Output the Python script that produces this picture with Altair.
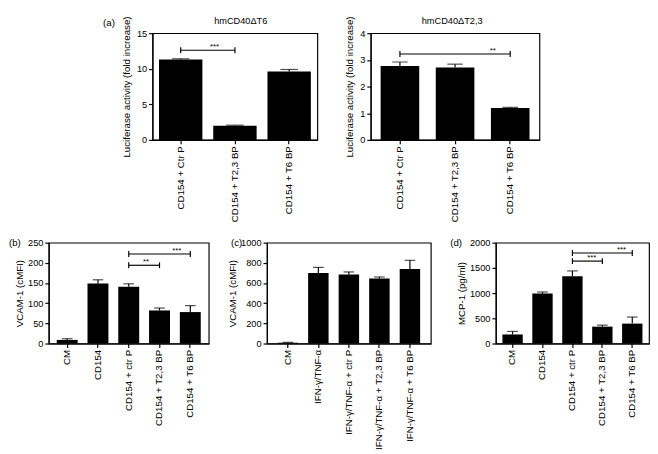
import altair as alt
import pandas as pd

FONT = "Arial"

# ---------------- data ----------------
a1_cats = ["CD154 + Ctr P", "CD154 + T2,3 BP", "CD154 + T6 BP"]
a1_mean = [11.3, 2.0, 9.6]
a1_upper = [11.4, 2.07, 9.9]
a1_sig_from = ["CD154 + Ctr P"]
a1_sig_to = ["CD154 + T2,3 BP"]
a1_sig_y = [12.6]
a1_sig_txt = ["***"]
a1_ticks = [0, 5, 10, 15]

a2_cats = ["CD154 + Ctr P", "CD154 + T2,3 BP", "CD154 + T6 BP"]
a2_mean = [2.77, 2.71, 1.2]
a2_upper = [2.92, 2.84, 1.22]
a2_sig_from = ["CD154 + Ctr P"]
a2_sig_to = ["CD154 + T6 BP"]
a2_sig_y = [3.22]
a2_sig_txt = ["**"]
a2_ticks = [0, 1, 2, 3, 4]

b_cats = ["CM", "CD154", "CD154 + ctr P", "CD154 + T2,3 BP", "CD154 + T6 BP"]
b_mean = [9, 149, 141, 82, 78]
b_upper = [12, 158, 148, 88, 94]
b_sig_from = ["CD154 + ctr P", "CD154 + ctr P"]
b_sig_to = ["CD154 + T6 BP", "CD154 + T2,3 BP"]
b_sig_y = [222, 194]
b_sig_txt = ["***", "**"]
b_ticks = [0, 50, 100, 150, 200, 250]

c_cats = ["CM", "IFN-γ/TNF-α", "IFN-γ/TNF-α + ctr P",
          "IFN-γ/TNF-α + T2,3 BP", "IFN-γ/TNF-α + T6 BP"]
c_mean = [8, 700, 685, 645, 740]
c_upper = [12, 755, 710, 660, 825]
c_ticks = [0, 200, 400, 600, 800, 1000]

d_cats = ["CM", "CD154", "CD154 + ctr P", "CD154 + T2,3 BP", "CD154 + T6 BP"]
d_mean = [180, 990, 1335, 335, 395]
d_upper = [240, 1022, 1440, 365, 525]
d_sig_from = ["CD154 + ctr P", "CD154 + ctr P"]
d_sig_to = ["CD154 + T6 BP", "CD154 + T2,3 BP"]
d_sig_y = [1795, 1635]
d_sig_txt = ["***", "***"]
d_ticks = [0, 500, 1000, 1500, 2000]


def panel(cats, mean, upper, ticks, ytitle, width, height, pin, pout, cap,
          letter, letter_x, letter_y, title_pad=3,
          sig_from=None, sig_to=None, sig_y=None, sig_txt=None, star_dx=0,
          title=None, title_x=0, title_y=-12):
    df = pd.DataFrame({"cat": cats, "mean": mean, "upper": upper})
    xs = alt.Scale(domain=cats, paddingInner=pin, paddingOuter=pout)
    ys = alt.Scale(domain=[ticks[0], ticks[-1]], nice=False, zero=True)
    xax = alt.Axis(title=None, labelAngle=-90)
    yax = alt.Axis(title=ytitle, values=ticks, format="d", titlePadding=title_pad)
    base = alt.Chart(df)
    bars = base.mark_bar(color="black").encode(
        x=alt.X("cat:N", scale=xs, sort=cats, axis=xax),
        y=alt.Y("mean:Q", scale=ys, axis=yax),
    )
    stem = base.mark_rule(color="black", strokeWidth=1.2).encode(
        x=alt.X("cat:N", scale=xs, sort=cats, axis=xax),
        y=alt.Y("mean:Q", scale=ys, axis=yax),
        y2=alt.Y2("upper"),
    )
    caps = base.mark_tick(color="black", thickness=1.2, size=cap).encode(
        x=alt.X("cat:N", scale=xs, sort=cats, axis=xax),
        y=alt.Y("upper:Q", scale=ys, axis=yax),
    )
    layers = [bars, stem, caps]
    if sig_from:
        sdf = pd.DataFrame({"from": sig_from, "to": sig_to, "y": sig_y, "txt": sig_txt})
        line = alt.Chart(sdf).mark_rule(color="black", strokeWidth=1.2).encode(
            x=alt.X("from:N", scale=xs, sort=cats, axis=xax),
            x2=alt.X2("to"),
            y=alt.Y("y:Q", scale=ys, axis=yax),
        )
        edf = pd.DataFrame({"cat": list(sig_from) + list(sig_to),
                            "y": list(sig_y) + list(sig_y)})
        ends = alt.Chart(edf).mark_point(
            shape="M0,-1L0,1", size=36, strokeWidth=1.2, color="black",
            opacity=1, filled=False
        ).encode(
            x=alt.X("cat:N", scale=xs, sort=cats, axis=xax),
            y=alt.Y("y:Q", scale=ys, axis=yax),
        )
        stars = alt.Chart(sdf).mark_text(
            dx=star_dx, dy=-1.5, baseline="alphabetic", fontSize=8, font=FONT,
            color="black"
        ).encode(
            x=alt.X("to:N", scale=xs, sort=cats, axis=xax),
            y=alt.Y("y:Q", scale=ys, axis=yax),
            text="txt:N",
        )
        layers += [line, ends, stars]
    lab = alt.Chart(pd.DataFrame({"t": [letter]})).mark_text(
        align="left", baseline="middle", fontSize=10, font=FONT, color="black"
    ).encode(x=alt.value(letter_x), y=alt.value(letter_y), text="t:N")
    layers.append(lab)
    if title:
        tt = alt.Chart(pd.DataFrame({"t": [title]})).mark_text(
            align="center", baseline="middle", fontSize=9.5, font=FONT, color="black"
        ).encode(x=alt.value(title_x), y=alt.value(title_y), text="t:N")
        layers.append(tt)
    return alt.layer(*layers).properties(width=width, height=height)


ytitle_a = "Luciferase activity (fold increase)"

pa1 = panel(a1_cats, a1_mean, a1_upper, a1_ticks, ytitle_a, 170, 110, 0.2, 0.12, 18,
            "(a)", -51, -10, title_pad=5,
            sig_from=a1_sig_from, sig_to=a1_sig_to, sig_y=a1_sig_y, sig_txt=a1_sig_txt,
            star_dx=-21, title="hmCD40ΔT6", title_x=91, title_y=-12)
pa2 = panel(a2_cats, a2_mean, a2_upper, a2_ticks, ytitle_a, 174, 110, 0.3, 0.18, 16,
            "", -40, -10, title_pad=5,
            sig_from=a2_sig_from, sig_to=a2_sig_to, sig_y=a2_sig_y, sig_txt=a2_sig_txt,
            star_dx=-18, title="hmCD40ΔT2,3", title_x=84, title_y=-12)

pb = panel(b_cats, b_mean, b_upper, b_ticks, "VCAM-1 (cMFI)", 165, 104, 0.32, 0.26, 11,
           "(b)", -41, 0,
           sig_from=b_sig_from, sig_to=b_sig_to, sig_y=b_sig_y, sig_txt=b_sig_txt,
           star_dx=-14)
pc = panel(c_cats, c_mean, c_upper, c_ticks, "VCAM-1 (cMFI)", 169, 104, 0.33, 0.35, 11,
           "(c)", -37, 0)
pd_ = panel(d_cats, d_mean, d_upper, d_ticks, "MCP-1 (pg/ml)", 158, 104, 0.32, 0.22, 11,
            "(d)", -47, 0,
            sig_from=d_sig_from, sig_to=d_sig_to, sig_y=d_sig_y, sig_txt=d_sig_txt,
            star_dx=-11)

spacer = alt.Chart(pd.DataFrame({"t": [""]})).mark_text().encode(
    text="t:N", x=alt.value(0), y=alt.value(0)
).properties(width=42, height=10, view=alt.ViewBackground(stroke=None))

top = alt.hconcat(spacer, pa1, pa2, spacing=13)
bottom = alt.hconcat(pb, pc, pd_, spacing=18)

chart = alt.vconcat(top, bottom, spacing=14).properties(
    padding=0, background="white"
).configure(font=FONT).configure_view(
    stroke="black", strokeWidth=1.2
).configure_axis(
    domainColor="black", domainWidth=1.2, tickColor="black", tickWidth=1.2,
    tickSize=4, labelColor="black", labelFont=FONT, titleFont=FONT,
    titleFontWeight="normal", titleColor="black", grid=False,
    labelFontSize=9.5, titleFontSize=10, labelPadding=2
).configure_axisX(labelFontSize=10)

chart.save("out.html", embed_options={"renderer": "svg", "actions": False})
